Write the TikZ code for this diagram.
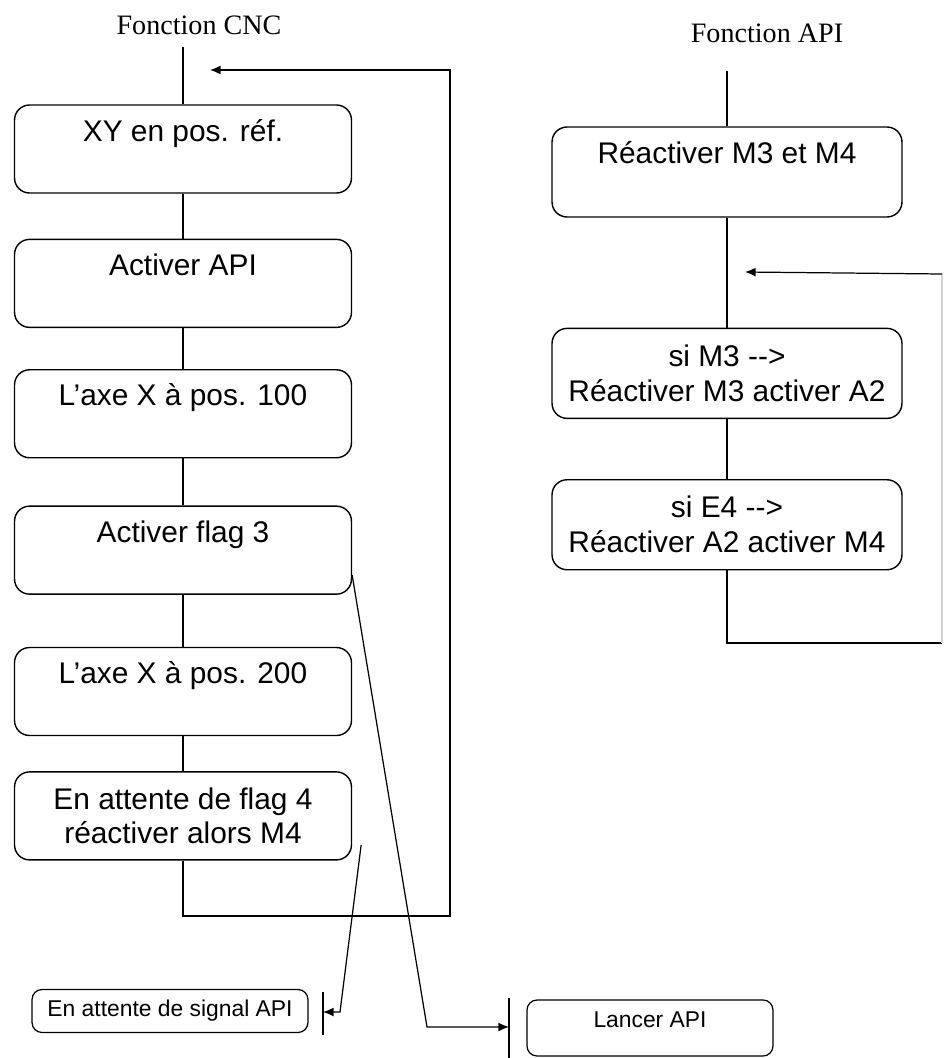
\documentclass[tikz,border=0pt]{standalone}
\usepackage{fontspec}
\setmainfont{Liberation Sans}
\newfontfamily\titlefont{Liberation Serif}
\usetikzlibrary{arrows.meta,positioning}

\begin{document}
\begin{tikzpicture}[x=0.02cm, y=-0.02cm,
  every node/.style={font=\fontsize{17}{19}\selectfont, align=center},
  cnc_node/.style={draw, rounded corners=0.3cm, line width=0.8pt,
    minimum width=6.74cm, minimum height=1.76cm},
  api_node/.style={cnc_node, minimum width=7cm, minimum height=1.8cm,
    font=\fontsize{17}{20}\selectfont},
  top_text/.style={text height=0.72cm, text depth=1.04cm, inner ysep=0pt},
  small_node/.style={draw, rounded corners=0.2cm, line width=0.7pt,
    font=\fontsize{13}{15}\selectfont},
  title_node/.style={font=\titlefont\fontsize{16}{18}\selectfont},
  conn_line/.style={draw, line width=0.7pt},
  flow_arrow/.style={conn_line, -{Latex[length=6pt,width=5pt]}},
]
\useasboundingbox (0,0) rectangle (944,1058);

\node[title_node] (cnc_title) at (199,25) {Fonction CNC};
\node[title_node] (api_title) at (767,33) {Fonction API};

\node[cnc_node, top_text] (b1) at (183,149) {XY en pos. réf.};
\node[cnc_node, top_text, below=0.9cm of b1] (b2) {Activer API};
\node[cnc_node, top_text, below=0.82cm of b2] (b3) {L’axe X à pos. 100};
\node[cnc_node, top_text, below=0.94cm of b3] (b4) {Activer flag 3};
\node[cnc_node, top_text, below=1.04cm of b4] (b5) {L’axe X à pos. 200};
\node[cnc_node, below=0.7cm of b5] (b6) {En attente de flag 4\\réactiver alors M4};

\node[api_node, text height=0.72cm, text depth=1.08cm, inner ysep=0pt] (r1) at (727,172) {Réactiver M3 et M4};
\node[api_node, below=2.2cm of r1] (r2) {si M3 -{}-{}>\\Réactiver M3 activer A2};
\node[api_node, below=1.2cm of r2] (r3) {si E4 -{}-{}>\\Réactiver A2 activer M4};

\node[small_node, minimum width=5.52cm, minimum height=0.86cm] (signal) at (170,1011) {En attente de signal API};
\node[small_node, minimum width=4.92cm, text height=0.54cm, text depth=0.58cm, inner ysep=0pt] (lancer) at (650,1028) {Lancer API};

\coordinate (cnc_top) at (183,47);
\coordinate (loop_se) at (450,916);
\coordinate (loop_ne) at (450,70);
\coordinate (loop_in) at (210,70);
\coordinate (sig_start) at ([xshift=0.18cm, yshift=-0.58cm]b6.east);
\coordinate (sig_turn) at (340,1012);
\coordinate (sig_tick_top) at (323,992);
\coordinate (sig_tick_bot) at (323,1035);
\coordinate (flag_turn) at (427,1027);
\coordinate (lancer_tick_top) at (509,998);
\coordinate (lancer_tick_bot) at (509,1062);
\coordinate (api_top) at (727,71);
\coordinate (api_se) at (942,643);
\coordinate (api_ne) at (942,274);
\coordinate (api_in) at (745,272);

\draw[conn_line] (cnc_top) -- (b1.north);
\draw[conn_line] (b1.south) -- (b2.north);
\draw[conn_line] (b2.south) -- (b3.north);
\draw[conn_line] (b3.south) -- (b4.north);
\draw[conn_line] (b4.south) -- (b5.north);
\draw[conn_line] (b5.south) -- (b6.north);
\draw[flow_arrow] (b6.south) |- (loop_se) -- (loop_ne) -- (loop_in);

\draw[conn_line] (sig_tick_top) -- (sig_tick_bot);
\draw[flow_arrow] (sig_start) -- (sig_turn) -- (sig_turn -| sig_tick_top);
\draw[conn_line] (lancer_tick_top) -- (lancer_tick_bot);
\draw[flow_arrow] ([yshift=-0.5cm]b4.east) -- (flag_turn) -- (flag_turn -| lancer_tick_top);

\draw[conn_line] (api_top) -- (r1.north);
\draw[conn_line] (r1.south) -- (r2.north);
\draw[conn_line] (r2.south) -- (r3.north);
\draw[conn_line] (r3.south) |- (api_se);
\draw[conn_line, gray!35] (api_se) -- (api_ne);
\draw[flow_arrow] (api_ne) -- (api_in);
\end{tikzpicture}
\end{document}
